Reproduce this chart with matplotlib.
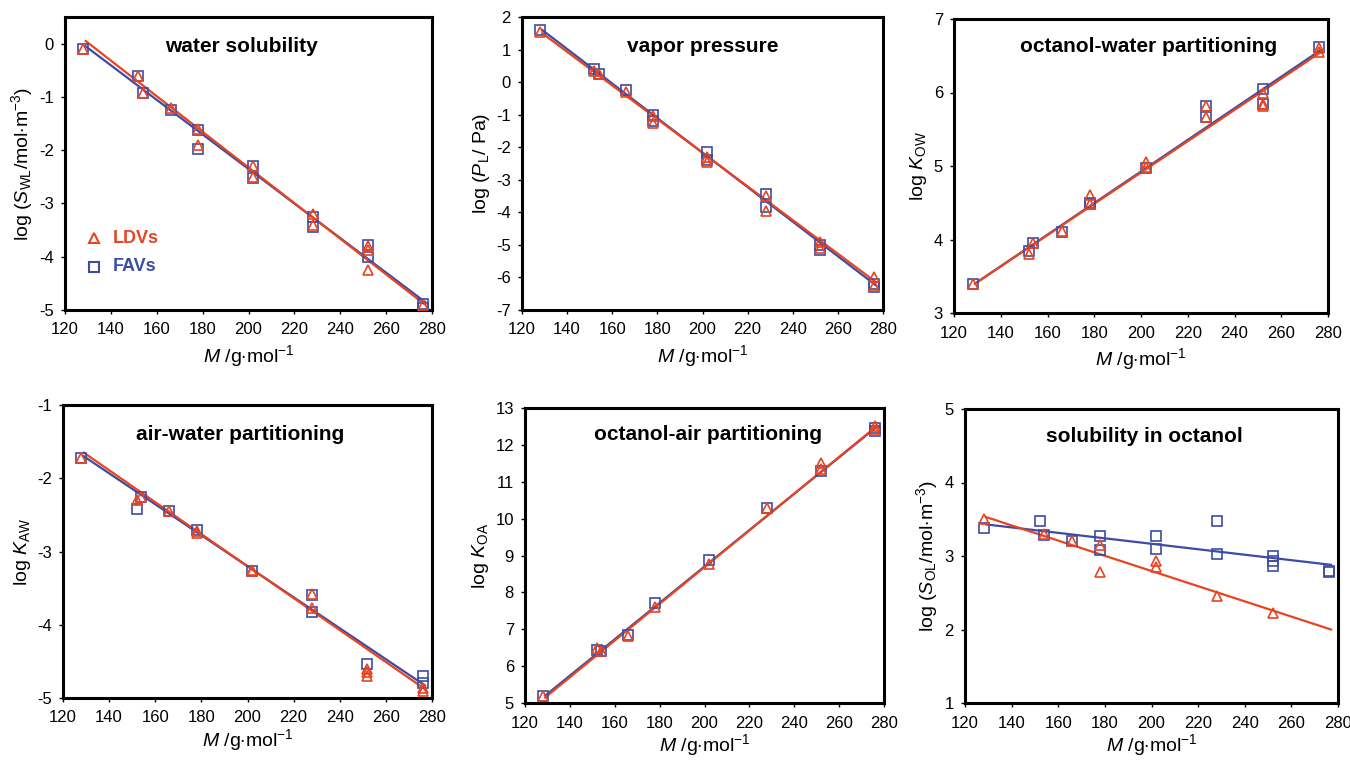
import matplotlib
matplotlib.use("Agg")
import matplotlib.pyplot as plt

plt.rcParams["font.family"] = ["Liberation Sans", "DejaVu Sans"]
plt.rcParams["mathtext.fontset"] = "custom"
plt.rcParams["mathtext.rm"] = "Liberation Sans"
plt.rcParams["mathtext.it"] = "Liberation Sans:italic"
plt.rcParams["mathtext.bf"] = "Liberation Sans:bold"
plt.rcParams["axes.unicode_minus"] = False

RED = "#e8441f"
BLUE = "#3c4ca6"

# molar mass of each data point (g/mol)
ws_x_ldv = [128, 152, 154, 166, 178, 178, 202, 202, 228, 228, 252, 252, 252, 276]
ws_ldv = [-0.1, -0.6, -0.93, -1.2, -1.6, -1.9, -2.3, -2.5, -3.2, -3.4, -3.8, -3.87, -4.25, -4.9]
ws_x_fav = [128, 152, 154, 166, 178, 178, 202, 202, 228, 228, 252, 252, 276, 276]
ws_fav = [-0.1, -0.6, -0.93, -1.25, -1.63, -1.97, -2.3, -2.52, -3.25, -3.45, -3.78, -4.0, -4.88, -4.97]
ws_line_ldv = [0.05, -4.9]
ws_line_fav = [-0.05, -4.85]

vp_x_ldv = [128, 152, 154, 166, 178, 178, 202, 202, 228, 228, 252, 252, 276, 276]
vp_ldv = [1.55, 0.35, 0.25, -0.3, -1.05, -1.25, -2.3, -2.45, -3.5, -3.95, -4.9, -5.1, -6.0, -6.25]
vp_x_fav = [128, 152, 154, 166, 178, 178, 202, 202, 228, 228, 252, 252, 276, 276]
vp_fav = [1.6, 0.4, 0.25, -0.25, -1.0, -1.2, -2.15, -2.4, -3.45, -3.85, -5.0, -5.15, -6.2, -6.3]
vp_line_ldv = [1.5, -6.15]
vp_line_fav = [1.6, -6.25]

kow_x_ldv = [128, 152, 154, 166, 178, 178, 202, 202, 228, 228, 252, 252, 252, 276, 276]
kow_ldv = [3.4, 3.8, 3.95, 4.12, 4.6, 4.48, 5.05, 4.98, 5.82, 5.67, 5.82, 5.85, 6.0, 6.55, 6.6]
kow_x_fav = [128, 152, 154, 166, 178, 178, 202, 228, 228, 252, 252, 276]
kow_fav = [3.4, 3.85, 3.95, 4.1, 4.5, 4.48, 4.97, 5.82, 5.67, 6.05, 5.85, 6.62]
kow_line_ldv = [3.4, 6.55]
kow_line_fav = [3.4, 6.58]

kaw_x_ldv = [128, 152, 154, 166, 178, 178, 202, 202, 228, 228, 252, 252, 252, 276, 276]
kaw_ldv = [-1.72, -2.3, -2.25, -2.45, -2.72, -2.75, -3.25, -3.27, -3.58, -3.77, -4.6, -4.65, -4.7, -4.87, -4.9]
kaw_x_fav = [128, 152, 154, 166, 178, 202, 228, 228, 252, 276, 276]
kaw_fav = [-1.72, -2.42, -2.25, -2.45, -2.7, -3.27, -3.6, -3.83, -4.53, -4.7, -4.8]
kaw_line_ldv = [-1.65, -4.88]
kaw_line_fav = [-1.7, -4.83]

koa_x_ldv = [128, 152, 154, 166, 178, 202, 228, 252, 252, 276, 276]
koa_ldv = [5.18, 6.5, 6.42, 6.82, 7.6, 8.78, 10.28, 11.5, 11.35, 12.5, 12.4]
koa_x_fav = [128, 152, 154, 166, 178, 202, 228, 252, 276, 276]
koa_fav = [5.2, 6.45, 6.4, 6.85, 7.7, 8.88, 10.28, 11.3, 12.38, 12.45]
koa_line_ldv = [5.15, 12.52]
koa_line_fav = [5.2, 12.5]

so_x_ldv = [128, 154, 166, 178, 178, 202, 202, 228, 252]
so_ldv = [3.5, 3.3, 3.2, 3.15, 2.78, 2.93, 2.85, 2.45, 2.22]
so_x_fav = [128, 152, 154, 166, 178, 178, 202, 202, 228, 228, 252, 252, 252, 276, 276]
so_fav = [3.38, 3.48, 3.28, 3.2, 3.27, 3.08, 3.27, 3.1, 3.47, 3.03, 3.0, 2.93, 2.87, 2.8, 2.78]
so_line_ldv = [3.53, 2.0]
so_line_fav = [3.43, 2.88]

line_x = [129, 277]

panels = [
    # rect in pixels (x0, y0, x1, y1), title, title pos, ylabel, ylim, yticks, data
    ((65, 17, 432, 310), "water solubility", (0.48, 0.90),
     r"log ($S$$_{\rm WL}$/mol$\cdot$m$^{-3}$)", (-5, 0.5), range(-5, 1),
     (ws_x_ldv, ws_ldv, ws_x_fav, ws_fav, ws_line_ldv, ws_line_fav)),
    ((522, 17, 883, 310), "vapor pressure", (0.50, 0.90),
     r"log ($P$$_{\rm L}$/ Pa)", (-7, 2), range(-7, 3),
     (vp_x_ldv, vp_ldv, vp_x_fav, vp_fav, vp_line_ldv, vp_line_fav)),
    ((954, 19, 1328, 313), "octanol-water partitioning", (0.52, 0.905),
     r"log $K$$_{\rm OW}$", (3, 7), range(3, 8),
     (kow_x_ldv, kow_ldv, kow_x_fav, kow_fav, kow_line_ldv, kow_line_fav)),
    ((63, 405, 432, 698), "air-water partitioning", (0.48, 0.90),
     r"log $K$$_{\rm AW}$", (-5, -1), range(-5, 0),
     (kaw_x_ldv, kaw_ldv, kaw_x_fav, kaw_fav, kaw_line_ldv, kaw_line_fav)),
    ((525, 408, 884, 703), "octanol-air partitioning", (0.51, 0.91),
     r"log $K$$_{\rm OA}$", (5, 13), range(5, 14),
     (koa_x_ldv, koa_ldv, koa_x_fav, koa_fav, koa_line_ldv, koa_line_fav)),
    ((965, 409, 1338, 703), "solubility in octanol", (0.48, 0.905),
     r"log ($S$$_{\rm OL}$/mol$\cdot$m$^{-3}$)", (1, 5), range(1, 6),
     (so_x_ldv, so_ldv, so_x_fav, so_fav, so_line_ldv, so_line_fav)),
]

W, H = 1350, 761
fig = plt.figure(figsize=(W / 100, H / 100), dpi=100)

for (x0, y0, x1, y1), title, tpos, ylab, ylim, yticks, d in panels:
    ax = fig.add_axes([x0 / W, 1 - y1 / H, (x1 - x0) / W, (y1 - y0) / H])
    xl, yl, xf, yf, ll, lf = d
    ax.plot(line_x, lf, color=BLUE, lw=1.6, zorder=2)
    ax.plot(line_x, ll, color=RED, lw=1.6, zorder=2)
    ax.plot(xf, yf, ls="none", marker="s", ms=6.5, mfc="none", mec=BLUE, mew=1.2, zorder=3)
    ax.plot(xl, yl, ls="none", marker="^", ms=6.5, mfc="none", mec=RED, mew=1.2, zorder=3)
    ax.set_xlim(120, 280)
    ax.set_ylim(*ylim)
    ax.set_xticks(range(120, 281, 20))
    ax.set_yticks(list(yticks))
    ax.tick_params(direction="out", length=3, width=1, labelsize=12)
    ax.tick_params(axis="x", pad=6)
    ax.tick_params(axis="y", pad=5)
    for s in ax.spines.values():
        s.set_linewidth(2.2)
    bottom_row = y0 > 380
    ax.set_xlabel(r"$M$ /g$\cdot$mol$^{-1}$", fontsize=14, labelpad=1 if bottom_row else 4)
    ax.set_ylabel(ylab, fontsize=14, labelpad=3)
    ax.text(tpos[0], tpos[1], title, transform=ax.transAxes, ha="center", va="center",
            fontsize=15, fontweight="bold")
    if title == "water solubility":
        ax.plot([0.08], [0.245], transform=ax.transAxes, marker="^", ms=6.5, mfc="none",
                mec=RED, mew=1.5, ls="none")
        ax.text(0.13, 0.245, "LDVs", transform=ax.transAxes, color=RED, fontsize=13,
                fontweight="bold", va="center")
        ax.plot([0.08], [0.148], transform=ax.transAxes, marker="s", ms=6.5, mfc="none",
                mec=BLUE, mew=1.5, ls="none")
        ax.text(0.13, 0.148, "FAVs", transform=ax.transAxes, color=BLUE, fontsize=13,
                fontweight="bold", va="center")

fig.savefig("out.png", dpi=100)
